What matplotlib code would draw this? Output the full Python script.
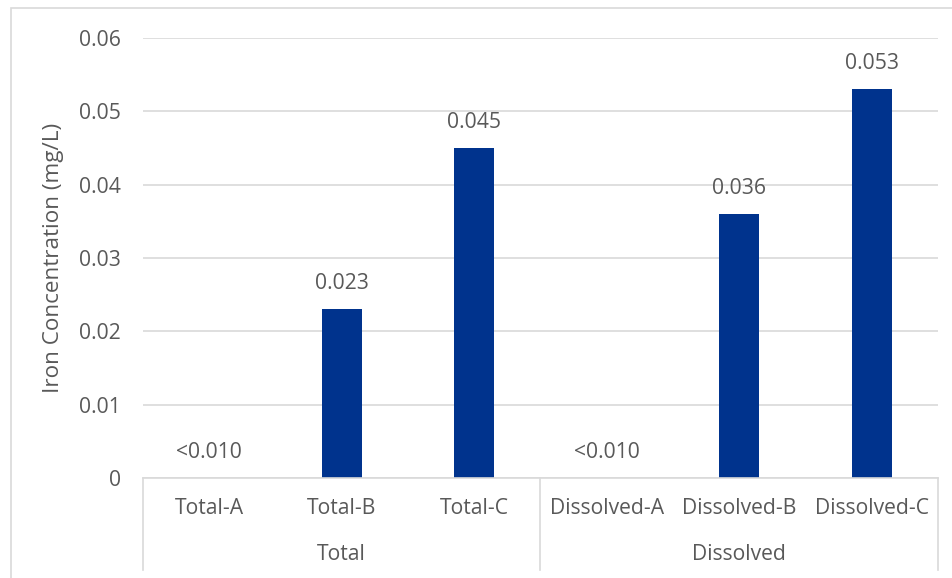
import matplotlib
matplotlib.use("Agg")
import matplotlib.pyplot as plt
from matplotlib.lines import Line2D
from matplotlib.patches import Rectangle

plt.rcParams['font.family'] = ['Open Sans', 'DejaVu Sans']

categories = ["Total-A", "Total-B", "Total-C", "Dissolved-A", "Dissolved-B", "Dissolved-C"]
values = [0.0, 0.023, 0.045, 0.0, 0.036, 0.053]
labels = ["<0.010", "0.023", "0.045", "<0.010", "0.036", "0.053"]
groups = ["Total", "Dissolved"]
group_sizes = [3, 3]
yticks = [0, 0.01, 0.02, 0.03, 0.04, 0.05, 0.06]
ytick_labels = ["0", "0.01", "0.02", "0.03", "0.04", "0.05", "0.06"]

W, H = 953, 578
fig = plt.figure(figsize=(W / 100, H / 100), dpi=100)
txt = "#595959"
grid = "#D9D9D9"
bar_color = "#00338D"
fs = 15.2

# outer chart border
fig.patches.append(Rectangle((11 / W, -0.01), 1.0, 1 - 8 / H + 0.01, transform=fig.transFigure,
                             fill=False, edgecolor=grid, linewidth=1.2))

left, right, bottom, top = 143 / W, 938 / W, 1 - 478 / H, 1 - 38 / H
ax = fig.add_axes([left, bottom, right - left, top - bottom])

x = list(range(len(categories)))
ax.bar(x, values, width=0.3, color=bar_color, zorder=3)
ax.set_xlim(-0.5, len(categories) - 0.5)
ax.set_ylim(0, 0.06)
ax.set_yticks(yticks)
ax.set_yticklabels(ytick_labels, fontsize=fs, color=txt)
ax.tick_params(axis='y', length=0, pad=16)
ax.set_xticks([])
ax.grid(axis='y', color=grid, linewidth=1.2, zorder=0)
for s in ax.spines.values():
    s.set_visible(False)

for xi, v, lab in zip(x, values, labels):
    ax.annotate(lab, (xi, v), xytext=(0, 18.5), textcoords='offset points',
                ha='center', va='center', fontsize=fs, color=txt)

ax.set_ylabel("Iron Concentration (mg/L)", fontsize=16.2, color=txt, labelpad=11)

# category axis (multi-level)
axis_y = 0.0
row1 = -30 / (478 - 38)
row2 = -76 / (478 - 38)
line_bottom = -92 / (478 - 38)
tr = ax.get_xaxis_transform()
ax.add_line(Line2D([-0.5, len(categories) - 0.5], [axis_y, axis_y], transform=tr,
                   color=grid, linewidth=1.2, clip_on=False, zorder=4))
for xi, c in zip(x, categories):
    ax.text(xi, row1, c, transform=tr, ha='center', va='center', fontsize=fs, color=txt)
start = 0
bounds = [-0.5]
for g, n in zip(groups, group_sizes):
    center = start + (n - 1) / 2
    ax.text(center, row2, g, transform=tr, ha='center', va='center', fontsize=fs, color=txt)
    start += n
    bounds.append(start - 0.5)
for b in bounds:
    ax.add_line(Line2D([b, b], [axis_y, line_bottom], transform=tr,
                       color=grid, linewidth=1.2, clip_on=False))

fig.savefig("out.png", dpi=100)
